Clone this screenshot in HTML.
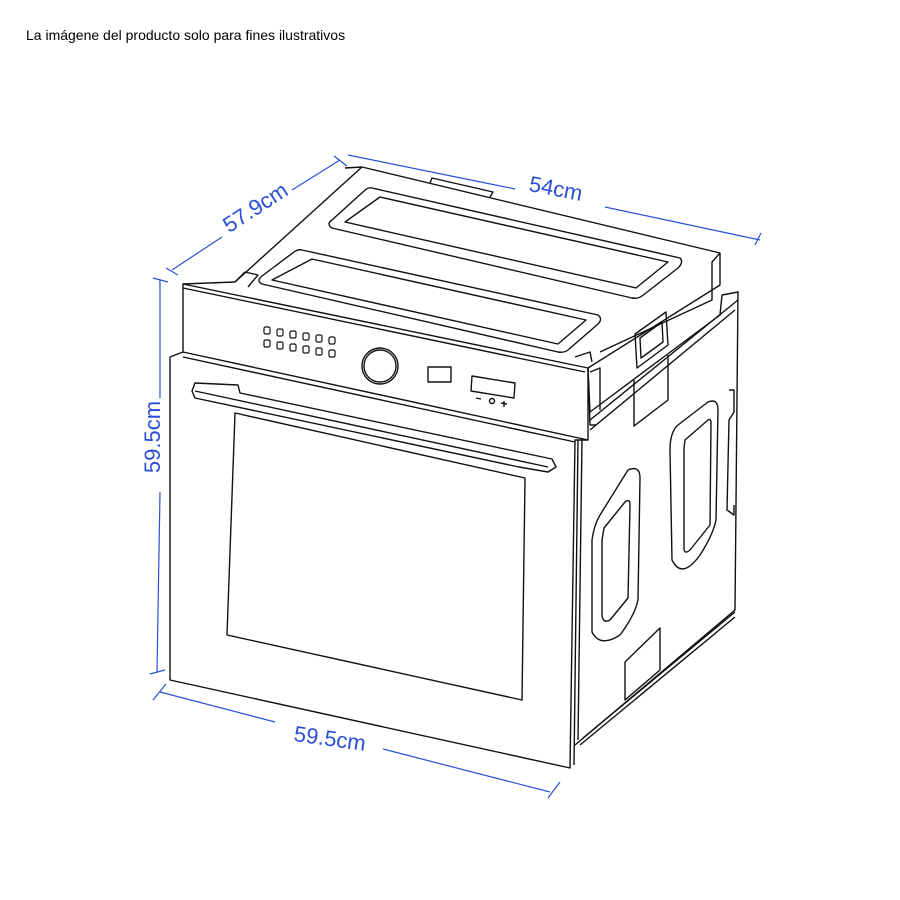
<!DOCTYPE html>
<html><head><meta charset="utf-8"><style>
html,body{margin:0;padding:0;background:#fff;}
svg{display:block;}
</style></head><body>
<svg width="900" height="900" viewBox="0 0 900 900" xmlns="http://www.w3.org/2000/svg">
<text x="26" y="40" font-family="Liberation Sans, sans-serif" font-size="14" fill="#000">La imágene del producto solo para fines ilustrativos</text>

<g fill="none" stroke="#111" stroke-width="1.4" stroke-linejoin="round">
<path d="M183,284 L235,282 L362,167 L720,253 L720,285 L588,368"/>
<path d="M362,167 L345,168"/>
<path d="M430,183 L432,178 L493,192 L490,197"/>
<path d="M720,253 L712,262 L712,300 L600,352"/>
<path d="M372,188 L680,258 Q684,262 678,268 L642,296 Q638,299 632,298 L332,228 Q326,224 332,220 L364,191 Q368,187 372,188 Z"/>
<path d="M380,197 L668,262 L636,288 L345,222 Z"/>
<path d="M302,250 L598,315 Q603,319 598,324 L568,350 Q564,353 558,352 L262,284 Q256,281 262,276 L294,252 Q298,249 302,250 Z"/>
<path d="M312,259 L586,320 L558,344 L272,280 Z"/>
<path d="M235,282 L245,272 L258,275 L248,287"/>
<path d="M575,357 L590,352 L592,362"/>
<path d="M183,284 L588,368 L588,440 L183,352 Z"/>
<path d="M183,288 L585,372"/>
<circle cx="380" cy="366" r="18"/>
<circle cx="380" cy="366" r="16"/>
<rect x="428" y="367" width="23" height="15"/>
<path d="M472,376 L515,383 L514,398 L471,391 Z"/>
<g stroke-width="1.2">
<rect x="264" y="327" width="6" height="7" rx="1.5"/><rect x="277" y="329" width="6" height="7" rx="1.5"/><rect x="290" y="331" width="6" height="7" rx="1.5"/><rect x="303" y="333" width="6" height="7" rx="1.5"/><rect x="316" y="335" width="6" height="7" rx="1.5"/><rect x="329" y="337" width="6" height="7" rx="1.5"/>
<rect x="264" y="340" width="6" height="7" rx="1.5"/><rect x="277" y="342" width="6" height="7" rx="1.5"/><rect x="290" y="344" width="6" height="7" rx="1.5"/><rect x="303" y="346" width="6" height="7" rx="1.5"/><rect x="316" y="348" width="6" height="7" rx="1.5"/><rect x="329" y="350" width="6" height="7" rx="1.5"/>
</g>
<path d="M476,398 L481,399 M501,403 L507,404 M504,401 L504,407"/>
<circle cx="492" cy="401" r="2.5"/>
<path d="M170,357 L183,352 M170,357 L170,680 L570,768 L575,440 L588,440"/>
<path d="M183,357 L575,442"/>
<path d="M578,440 L574,765 M582,438 L578,740"/>
<path d="M195,383 L238,385 L240,393 L552,459 L556,467 L548,472 L519,467 L195,398 L192,391 Z"/>
<path d="M195,391 L548,467"/>
<path d="M235,413 L525,478 L522,700 L227,635 Z"/>
<path d="M588,368 L590,412 L720,315 L722,295 L738,292 L735,610 L575,745"/>
<path d="M590,420 L738,300 M590,430 L735,310"/>
<path d="M583,738 L735,612 M580,745 L735,617"/>
<path d="M588,368 L590,425 L596,425"/>
<path d="M590,372 L600,368 L600,410"/>
<path d="M635,334 L666,312 L668,345 L637,368 Z M640,338 L662,322 L663,342 L641,358 Z"/>
<path d="M634,380 L634,426 L668,400 L668,355"/>
<path d="M625,662 L625,700 L660,670 L660,628 Z"/>
<path d="M600,515 L628,470 Q640,465 640,478 L638,600 Q635,615 620,635 Q600,648 592,632 L592,540 Q594,525 600,515 Z"/>
<path d="M604,528 L625,502 Q630,498 630,505 L628,598 L610,620 Q603,624 602,615 L602,540 Z"/>
<path d="M678,425 L708,402 Q718,398 718,410 L716,520 Q713,535 700,555 Q682,580 672,560 L670,450 Q670,432 678,425 Z"/>
<path d="M685,440 L708,420 Q711,418 711,423 L710,525 L690,550 Q684,555 684,548 L684,448 Z"/>
<path d="M729,390 L734,390 L734,412 L729,420 L727,510 L734,515 L734,505"/>
</g>

<g stroke="#2a4fd6" stroke-width="1.2" fill="none">
<path d="M172,270 L222,237 M292,190 L340,160"/>
<path d="M166,268 L178,275 M334,156 L347,166"/>
<path d="M348,155 L515,189 M605,207 L760,240"/>
<path d="M755,245 L761,233"/>
<path d="M160,280 L160,398 M160,492 L157,672"/>
<path d="M153,278 L168,282 M150,674 L165,670"/>
<path d="M160,692 L275,722 M383,749 L550,792"/>
<path d="M153,700 L166,684 M548,798 L560,782"/>
</g>
<g fill="#2a4fd6" font-family="Liberation Sans, sans-serif" font-size="22">
<text x="255" y="215" text-anchor="middle" transform="rotate(-33 255 207)">57.9cm</text>
<text x="556" y="196" text-anchor="middle" transform="rotate(11 556 188)">54cm</text>
<text x="168" y="445" text-anchor="middle" transform="rotate(-90 160 445)">59.5cm</text>
<text x="330" y="746" text-anchor="middle" transform="rotate(8 330 738)">59.5cm</text>
</g>
</svg>
</body></html>
